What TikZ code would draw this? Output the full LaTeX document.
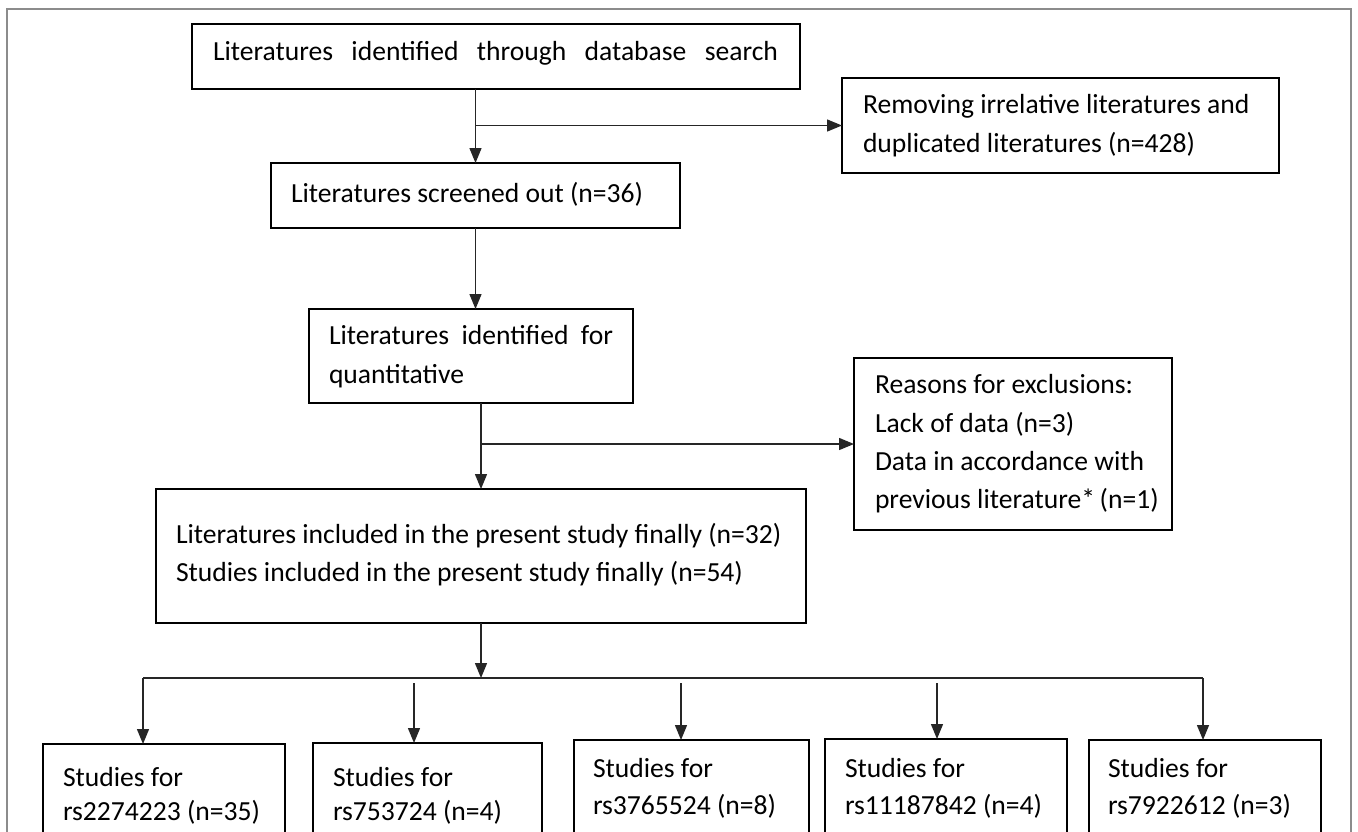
\documentclass[tikz,border=0pt]{standalone}
\usepackage{fontspec}
\setmainfont{Carlito}
\usetikzlibrary{arrows.meta}
\tikzset{
  box/.style={draw=black, line width=2.6pt, inner sep=0pt, outer sep=0pt, anchor=north west},
  txt/.style={anchor=base west, inner sep=0pt, outer sep=0pt, font=\fontsize{27.6}{38.5}\selectfont},
  arr/.style={line width=1.4pt, draw=black!85, -{Triangle[length=15pt,width=12pt]}},
  ln/.style={line width=1.4pt, draw=black!85},
}
\begin{document}
\begin{tikzpicture}[x=1pt,y=-1pt]
\useasboundingbox (0,0) rectangle (1358,831);
\clip (0,0) rectangle (1358,831);
\fill[white] (0,0) rectangle (1358,831);
% outer frame
\draw[draw=black!45, line width=1.8pt] (7,9) rectangle (1351,900);

% boxes
\node[box, minimum width=608pt, minimum height=65pt] (top) at (192,24) {};
\node[box, minimum width=437pt, minimum height=95pt] (r1) at (842,78) {};
\node[box, minimum width=409pt, minimum height=65pt] (b2) at (271,163) {};
\node[box, minimum width=324pt, minimum height=94pt] (b3) at (309,309) {};
\node[box, minimum width=318pt, minimum height=172pt] (r2) at (854,358) {};
\node[box, minimum width=650pt, minimum height=134pt] (b4) at (156,489) {};
\node[box, minimum width=242pt, minimum height=150pt] (sa) at (43,744) {};
\node[box, minimum width=229pt, minimum height=150pt] (sb) at (313,743) {};
\node[box, minimum width=235pt, minimum height=150pt] (sc) at (574,740) {};
\node[box, minimum width=242pt, minimum height=150pt] (sd) at (825,739) {};
\node[box, minimum width=232pt, minimum height=150pt] (se) at (1089,740) {};

% texts
\node[txt] (t1) at (213,60) {\makebox[565pt][s]{Literatures identified through database search}};
\node[txt] (t2a) at (863,113) {Removing irrelative literatures and};
\node[txt] (t2b) at (863,152) {duplicated literatures (n=428)};
\node[txt] (t3) at (291,202) {Literatures screened out (n=36)};
\node[txt] (t4a) at (329,344) {\makebox[284pt][s]{Literatures identified for}};
\node[txt] (t4b) at (329,383) {quantitative};
\node[txt] (t5a) at (875,393) {Reasons for exclusions:};
\node[txt] (t5b) at (875,432) {Lack of data (n=3)};
\node[txt] (t5c) at (875,470) {Data in accordance with};
\node[txt] (t5d) at (875,508) {previous literature*\,(n=1)};
\node[txt] (t6a) at (176,543) {Literatures included in the present study finally (n=32)};
\node[txt] (t6b) at (176,581) {Studies included in the present study finally (n=54)};
\node[txt] (ta1) at (63,786) {Studies for};
\node[txt] (ta2) at (63,820) {rs2274223 (n=35)};
\node[txt] (tb1) at (333,786) {Studies for};
\node[txt] (tb2) at (333,820) {rs753724 (n=4)};
\node[txt] (tc1) at (593,777) {Studies for};
\node[txt] (tc2) at (593,814) {rs3765524 (n=8)};
\node[txt] (td1) at (845,777) {Studies for};
\node[txt] (td2) at (845,814) {rs11187842 (n=4)};
\node[txt] (te1) at (1108,777) {Studies for};
\node[txt] (te2) at (1108,814) {rs7922612 (n=3)};

% connectors
\draw[arr] (top.south -| b2.north) -- (b2.north);
\draw[arr] (b2.north |- r1.west) -- (r1.west);
\draw[arr] (b2.south) -- (b2.south |- b3.north);
\draw[arr] (b3.south -| b4.north) -- (b4.north);
\draw[arr] (b4.north |- r2.west) -- (r2.west);

\coordinate (bus) at (481,678);
\coordinate (busl) at (143,678);
\coordinate (busr) at (1203,678);
\coordinate (db) at (414,683);
\coordinate (dc) at (681,683);
\coordinate (dd) at (937,683);
\draw[arr] (b4.south) -- (bus);
\draw[ln] (busl) -- (busr);
\draw[arr] (busl) -- (busl |- sa.north);
\draw[arr] (db) -- (db |- sb.north);
\draw[arr] (dc) -- (dc |- sc.north);
\draw[arr] (dd) -- (dd |- sd.north);
\draw[arr] (busr) -- (busr |- se.north);
\end{tikzpicture}
\end{document}
